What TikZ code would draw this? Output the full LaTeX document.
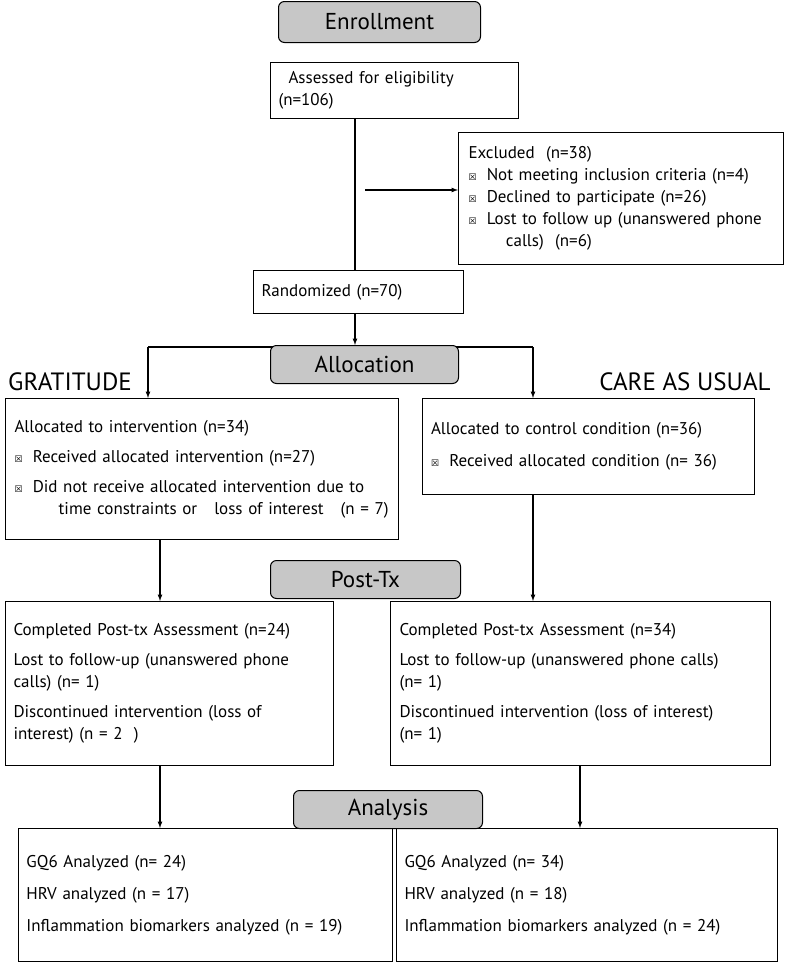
\documentclass[tikz,border=0pt]{standalone}
\usepackage{fontspec}
\setmainfont{PT Sans}
\newfontfamily\symfont{DejaVu Sans}
\usetikzlibrary{backgrounds}
\newcommand{\bx}{{\symfont\small ☒}\hspace{0.6em}}
\tikzset{
	box/.style={draw, line width=1pt, anchor=north west, align=left, inner sep=8pt, font=\fontsize{17}{22}\selectfont},
	stage/.style={draw, line width=1pt, rounded corners=6pt, fill=black!22, anchor=north west, font=\fontsize{23}{26}\selectfont},
	arm/.style={font=\fontsize{25}{28}\selectfont},
	link/.style={line width=1.2pt},
	arr/.style={line width=1.2pt, -latex}
}
\begin{document}
\begin{tikzpicture}[x=1pt, y=-1pt]
	\useasboundingbox (0,0) rectangle (785,962);

	% stage headers
	\node[stage, minimum width=202, minimum height=41] (enroll) at (278,1) {Enrollment};
	\node[stage, minimum width=188, minimum height=38] (alloc) at (270,345) {Allocation};
	\node[stage, minimum width=190, minimum height=38] (posttx) at (270,560) {Post-Tx};
	\node[stage, minimum width=189, minimum height=38] (analysis) at (293,790) {Analysis};

	% enrollment
	\node[box, minimum width=248, minimum height=56, text width=232] (assess) at (270,62) {\hspace{10pt}Assessed for eligibility (n=106)};
	\node[box, minimum width=325, minimum height=132, text width=305] (excl) at (458,132)
		{Excluded\ \ (n=38)\\
		\bx Not meeting inclusion criteria (n=4)\\
		\bx Declined to participate (n=26)\\
		\bx Lost to follow up (unanswered phone\\
		\hspace{2.2em}calls)\ \ (n=6)};
	\node[box, minimum width=210, minimum height=43, text width=194] (rand) at (253,270) {Randomized (n=70)};

	\node[arm] (grat) at (70,382) {GRATITUDE};
	\node[arm] (care) at (685,382) {CARE AS USUAL};

	% allocation
	\node[box, minimum width=393, minimum height=141, text width=375] (allocL) at (5,398)
		{Allocated to intervention (n=34)\\[8pt]
		\bx Received allocated intervention (n=27)\\[8pt]
		\bx Did not receive allocated intervention due to\\
		\hspace{2.6em}time constraints or\ \ \ loss of interest\ \ \ (n = 7)};
	\node[box, minimum width=332, minimum height=96, text width=315] (allocR) at (422,398)
		{Allocated to control condition (n=36)\\[10pt]
		\bx Received allocated condition (n= 36)};

	% post-tx
	\node[box, minimum width=328, minimum height=164, text width=312] (postL) at (5,601)
		{Completed Post-tx Assessment (n=24)\\[8pt]
		Lost to follow-up (unanswered phone\\
		calls) (n= 1)\\[8pt]
		Discontinued intervention (loss of\\
		interest) (n = 2\ \ )};
	\node[box, minimum width=380, minimum height=164, text width=362] (postR) at (390,601)
		{Completed Post-tx Assessment (n=34)\\[8pt]
		Lost to follow-up (unanswered phone calls)\\
		(n= 1)\\[8pt]
		Discontinued intervention (loss of interest)\\
		(n= 1)};

	% analysis
	\node[box, minimum width=374, minimum height=133, text width=358] (anaL) at (18,828)
		{GQ6 Analyzed (n= 24)\\[10pt]
		HRV analyzed (n = 17)\\[10pt]
		Inflammation biomarkers analyzed (n = 19)};
	\node[box, minimum width=381, minimum height=133, text width=365] (anaR) at (396,828)
		{GQ6 Analyzed (n= 34)\\[10pt]
		HRV analyzed (n = 18)\\[10pt]
		Inflammation biomarkers analyzed (n = 24)};

	\coordinate (trunk) at (355,0);
	\coordinate (tap) at (365,190);
	\coordinate (splitL) at (148,347);
	\coordinate (splitR) at (533,347);

	\begin{pgfonlayer}{background}
		\draw[link] (trunk |- assess.south) -- (trunk |- rand.north);
		\draw[arr] (tap) -- (excl.west |- tap);
		\draw[arr] (trunk |- rand.south) -- (trunk |- alloc.north);
		\draw[link] (splitL) -- (splitR);
		\draw[arr] (splitL) -- (splitL |- allocL.north);
		\draw[arr] (splitR) -- (splitR |- allocR.north);
		\draw[arr] (160,0 |- allocL.south) -- (160,0 |- postL.north);
		\draw[arr] (533,0 |- allocR.south) -- (533,0 |- postR.north);
		\draw[arr] (160,0 |- postL.south) -- (160,0 |- anaL.north);
		\draw[arr] (580,0 |- postR.south) -- (580,0 |- anaR.north);
	\end{pgfonlayer}
\end{tikzpicture}
\end{document}
